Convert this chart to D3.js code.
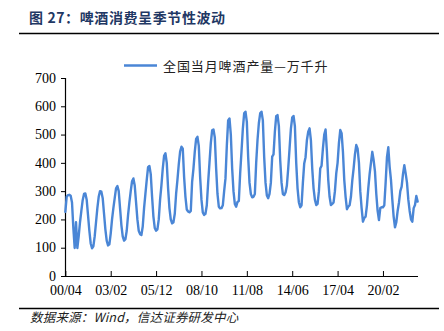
<!DOCTYPE html>
<html><head><meta charset="utf-8">
<script src="https://cdn.jsdelivr.net/npm/d3@7"></script>
<style>
html,body{margin:0;padding:0;background:#fff;}
svg{display:block;}
</style></head>
<body>
<svg id="c" width="444" height="331"></svg>
<script>
// ---- data (全国当月啤酒产量, 万千升), monthly from 2000/04 ----
const startYear = 2000, startMonth = 4;
const v2000 = [227, 280, 286, 287, 284, 260, 170, 99, 190];
const v2001 = [99, 140, 190, 230, 268, 290, 292, 270, 215, 160, 115, 98];
const v2002 = [105, 140, 190, 240, 280, 300, 298, 275, 220, 165, 125, 108];
const v2003 = [112, 150, 200, 240, 275, 310, 318, 300, 240, 180, 140, 125];
const v2004 = [130, 160, 215, 260, 300, 335, 345, 320, 260, 200, 160, 148];
const v2005 = [145, 175, 240, 290, 340, 385, 389, 360, 280, 210, 170, 160];
const v2006 = [165, 200, 270, 320, 380, 425, 434, 400, 310, 240, 200, 186];
const v2007 = [190, 220, 290, 340, 395, 440, 457, 450, 350, 280, 235, 228];
const v2008 = [225, 230, 333, 380, 440, 485, 492, 460, 350, 270, 225, 216];
const v2009 = [220, 250, 330, 400, 470, 515, 518, 490, 380, 290, 245, 239];
const v2010 = [240, 250, 300, 345, 460, 550, 557, 500, 380, 300, 255, 245];
const v2011 = [262, 265, 363, 440, 520, 575, 581, 545, 420, 330, 290, 278];
const v2012 = [280, 290, 400, 481, 540, 575, 581, 550, 420, 330, 285, 275];
const v2013 = [290, 330, 422, 430, 510, 565, 569, 530, 410, 330, 290, 286];
const v2014 = [295, 320, 380, 450, 520, 560, 566, 530, 400, 310, 260, 243];
const v2015 = [250, 330, 398, 420, 480, 510, 522, 480, 380, 310, 270, 251];
const v2016 = [255, 300, 380, 390, 450, 500, 518, 440, 340, 280, 251, 255];
const v2017 = [260, 300, 363, 400, 470, 516, 505, 440, 340, 280, 236, 245];
const v2018 = [250, 280, 337, 380, 430, 463, 450, 400, 300, 240, 192, 205];
const v2019 = [210, 250, 310, 360, 400, 439, 410, 370, 290, 230, 198, 240];
const v2020 = [243, 243, 250, 330, 420, 455, 386, 340, 270, 210, 172, 190];
const v2021 = [230, 260, 300, 316, 360, 392, 363, 330, 270, 230, 200, 192];
const v2022 = [240, 251, 283, 263];
const xTickLabels = ["00/04","03/02","05/12","08/10","11/08","14/06","17/04","20/02"];
const yTicks = [0,100,200,300,400,500,600,700];
const titleText = "图 27：啤酒消费呈季节性波动";
const legendText = "全国当月啤酒产量—万千升";
const sourceText = "数据来源：Wind，信达证券研发中心";

const values = [].concat(v2000,v2001,v2002,v2003,v2004,v2005,v2006,v2007,v2008,v2009,v2010,
  v2011,v2012,v2013,v2014,v2015,v2016,v2017,v2018,v2019,v2020,v2021,v2022);
const months = values.map((v,i)=>{
  const m = startMonth - 1 + i;
  const y = startYear + Math.floor(m/12);
  const mm = (m%12)+1;
  return String(y%100).padStart(2,"0") + "/" + String(mm).padStart(2,"0");
});
const data = months.map((m,i)=>({m, v: values[i]}));

const svg = d3.select("#c");
const blue = "#4A86D6";
const serif = "'Liberation Serif','Times New Roman',serif";
const cjk = "'Noto Sans CJK SC','Noto Sans',sans-serif";

const x = d3.scalePoint().domain(months).range([65, 418]).padding(0.25);
const y = d3.scaleLinear().domain([0,700]).range([276, 78]);

// title
svg.append("text").attr("x",29).attr("y",22.5)
  .attr("font-family",cjk).attr("font-weight","bold").attr("font-size",14)
  .attr("letter-spacing",0.6)
  .attr("fill","#1F3864").text(titleText);
svg.append("line").attr("x1",19).attr("x2",439).attr("y1",33.5).attr("y2",33.5)
  .attr("stroke","#000").attr("stroke-width",1.3);

// legend
svg.append("line").attr("x1",124).attr("x2",157).attr("y1",65.5).attr("y2",65.5)
  .attr("stroke",blue).attr("stroke-width",2.5);
svg.append("text").attr("x",163).attr("y",70.5)
  .attr("font-family",cjk).attr("font-size",13).attr("letter-spacing",0.9)
  .attr("fill","#222").text(legendText);

// axes
const yAxis = d3.axisLeft(y).tickValues(yTicks).tickSizeInner(4).tickSizeOuter(0).tickPadding(5);
const gy = svg.append("g").attr("transform","translate(65,0)").call(yAxis);
const xAxis = d3.axisBottom(x).tickValues(xTickLabels).tickSizeInner(-5).tickSizeOuter(0).tickPadding(9.5);
const gx = svg.append("g").attr("transform","translate(0,276)").call(xAxis);
[gx,gy].forEach(g=>{
  g.selectAll("text").attr("font-family",serif).attr("font-size",14).attr("fill","#000");
  g.selectAll("line").attr("stroke","#000");
  g.select(".domain").attr("stroke","#000").attr("stroke-width",1.2);
});
gy.selectAll("text").attr("dy","0.3em");
gx.select(".domain").attr("d","M65,0.5H418");
gy.select(".domain").attr("d","M0.5,78H0.5V276");

// line
svg.append("path").datum(data)
  .attr("fill","none").attr("stroke",blue).attr("stroke-width",2.4)
  .attr("stroke-linejoin","round").attr("stroke-linecap","round")
  .attr("d", d3.line().x(d=>x(d.m)).y(d=>y(d.v)));

// footer
svg.append("line").attr("x1",19).attr("x2",439).attr("y1",308.5).attr("y2",308.5)
  .attr("stroke","#000").attr("stroke-width",1.3);
svg.append("text").attr("x",30).attr("y",322)
  .attr("font-family",cjk).attr("font-style","italic").attr("font-size",12.5)
  .attr("letter-spacing",0.2)
  .attr("fill","#222").text(sourceText);
</script>
</body></html>
